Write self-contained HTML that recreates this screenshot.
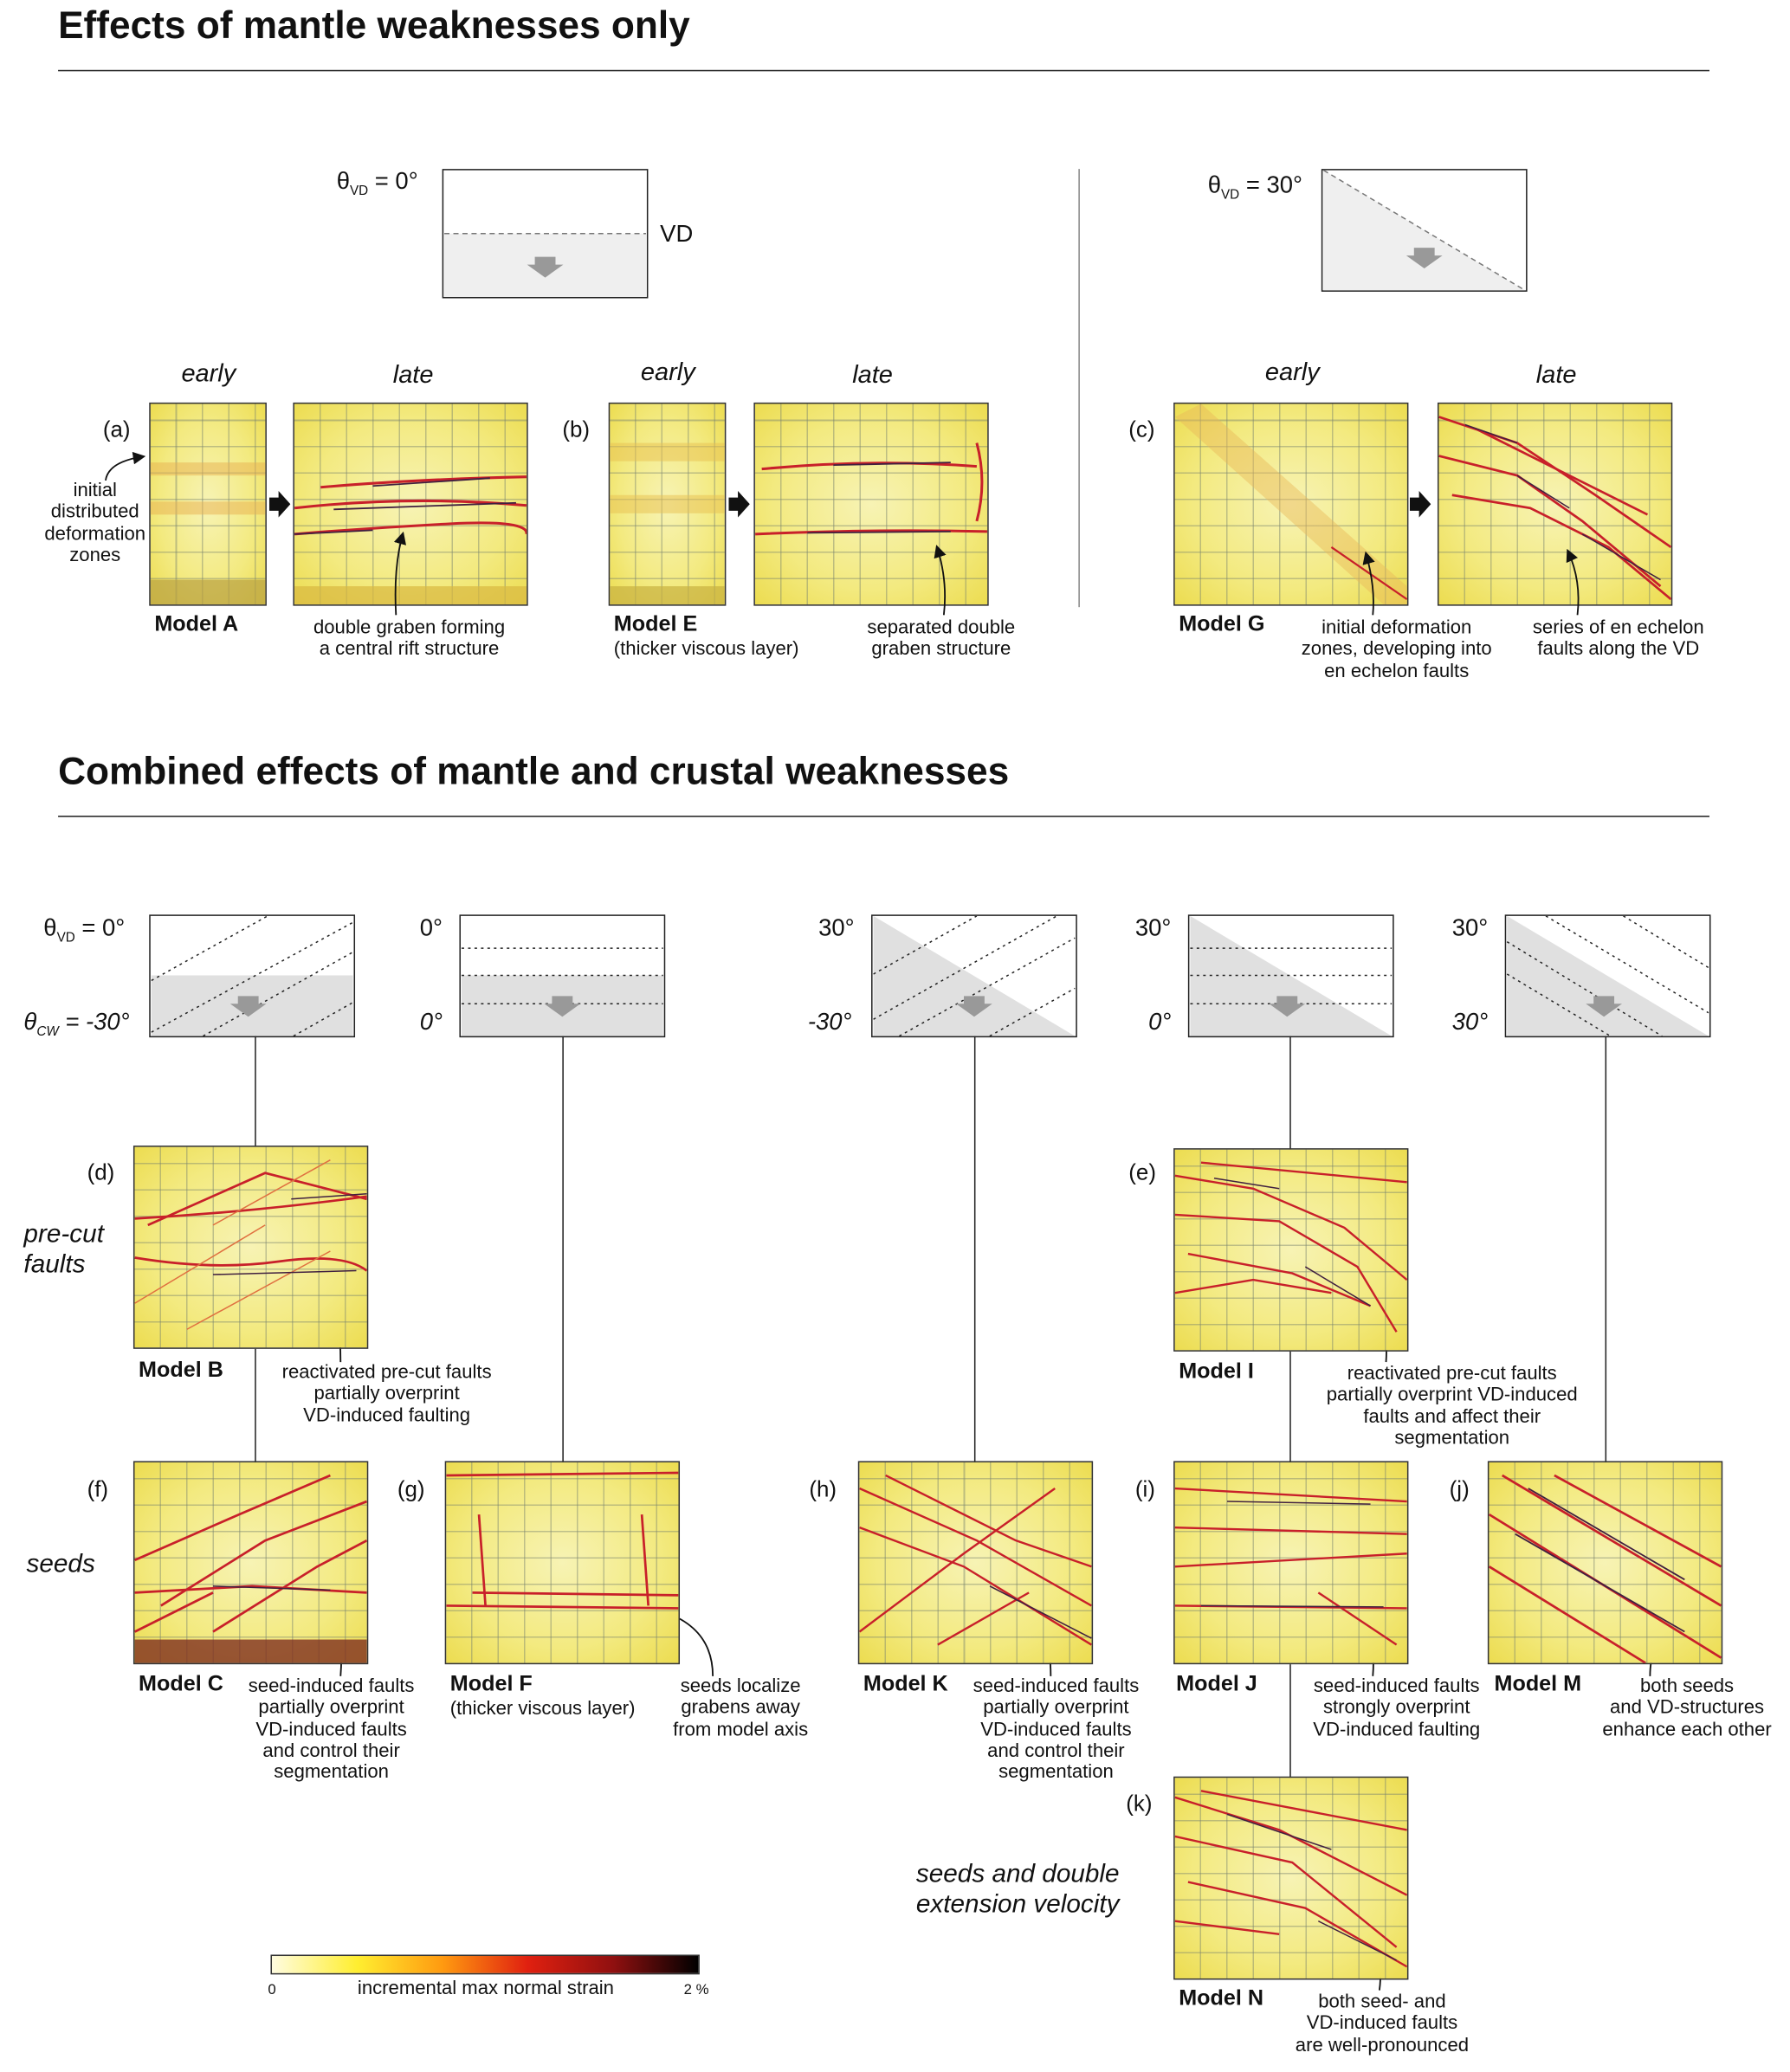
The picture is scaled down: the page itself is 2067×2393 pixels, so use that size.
<!DOCTYPE html>
<html><head><meta charset="utf-8"><style>
html,body{margin:0;padding:0;background:#fff;}
body{width:2067px;height:2393px;overflow:hidden;position:relative;}
#w{position:absolute;left:0;top:0;width:1356px;height:1570px;transform:scale(1.5243);transform-origin:0 0;font-family:"Liberation Sans",Arial,sans-serif;color:#111;}
.t{position:absolute;white-space:nowrap;font-size:14.5px;line-height:16.3px;}
.c{text-align:center;transform:translateX(-50%);}
.b{font-weight:bold;font-size:16.5px;}
.i{font-style:italic;}
.h{position:absolute;font-weight:bold;font-size:29px;left:44px;}
.hr{position:absolute;left:44px;width:1251px;height:1px;background:#222;}
.p{position:absolute;width:178px;height:154px;border:1px solid #333;box-sizing:border-box;
background:
repeating-linear-gradient(90deg,transparent 0 19px,rgba(120,130,110,.45) 19px 20px),
repeating-linear-gradient(0deg,transparent 0 19px,rgba(120,130,110,.45) 19px 20px),
radial-gradient(ellipse at 50% 50%,#f7f3b4 0%,#f3ea80 60%,#ecdc50 100%);}
.p.n{width:89px;}
.p svg{position:absolute;left:0;top:0;width:100%;height:100%;}
.vl{position:absolute;width:1px;background:#222;}
.bx{position:absolute;border:1px solid #222;box-sizing:border-box;background:#fff;overflow:hidden;}
.bx svg{position:absolute;left:0;top:0;width:100%;height:100%;}
</style></head><body><div id="w">

<div class="h" style="top:4px">Effects of mantle weaknesses only</div>
<div class="hr" style="top:53px"></div>
<div class="h" style="top:569px">Combined effects of mantle and crustal weaknesses</div>
<div class="hr" style="top:618px"></div>

<!-- top boxes -->
<div class="t" style="left:255px;top:127px;font-size:18px;line-height:20px">θ<sub style="font-size:10px">VD</sub> = 0°</div>
<div class="bx" style="left:335px;top:128px;width:156px;height:98px"><svg viewBox="0 0 156 98"><rect x="0" y="49" width="156" height="49" fill="#efefef"/><line x1="0" y1="49" x2="156" y2="49" stroke="#777" stroke-dasharray="4,3"/><path d="M70 67h16v6h6l-14 10-14-10h6z" fill="#999"/></svg></div>
<div class="t" style="left:500px;top:167px;font-size:18px;line-height:20px">VD</div>
<div class="vl" style="left:817px;top:128px;height:332px;background:#888"></div>
<div class="t" style="left:915px;top:130px;font-size:18px;line-height:20px">θ<sub style="font-size:10px">VD</sub> = 30°</div>
<div class="bx" style="left:1001px;top:128px;width:156px;height:93px"><svg viewBox="0 0 156 93"><polygon points="0,0 156,93 0,93" fill="#efefef"/><line x1="0" y1="0" x2="156" y2="93" stroke="#777" stroke-dasharray="4,3"/><path d="M70 60h16v6h6l-14 10-14-10h6z" fill="#999"/></svg></div>

<div class="t i c" style="left:158px;top:274px;font-size:19px;line-height:20px">early</div>
<div class="t i c" style="left:313px;top:275px;font-size:19px;line-height:20px">late</div>
<div class="t i c" style="left:506px;top:273px;font-size:19px;line-height:20px">early</div>
<div class="t i c" style="left:661px;top:275px;font-size:19px;line-height:20px">late</div>
<div class="t i c" style="left:979px;top:273px;font-size:19px;line-height:20px">early</div>
<div class="t i c" style="left:1179px;top:275px;font-size:19px;line-height:20px">late</div>

<!-- top panels -->
<div class="t" style="left:78px;top:317px;font-size:17px;line-height:18px">(a)</div>
<div class="p n" style="left:113px;top:305px"><svg viewBox="0 0 89 154" preserveAspectRatio="none"><rect y="45" width="89" height="10" fill="#e8b050" opacity=".5"/><rect y="75" width="89" height="10" fill="#e8b050" opacity=".5"/><rect y="135" width="89" height="19" fill="#b8a040" opacity=".7"/></svg></div>
<svg style="position:absolute;left:204px;top:372px" width="16" height="20"><path d="M0 5h7v-5l9 10-9 10v-5h-7z" fill="#111"/></svg>
<div class="p" style="left:222px;top:305px"><svg viewBox="0 0 178 154"><g fill="none" stroke="#c8202a" stroke-width="2"><path d="M20 64 Q90 58 178 56"/><path d="M0 80 Q90 70 178 78"/><path d="M0 100 Q60 95 120 92 T178 100"/></g><g fill="none" stroke="#402040" stroke-width="1.2"><path d="M60 63 L150 57"/><path d="M30 81 L170 76"/><path d="M0 100 L60 97"/></g><rect y="140" width="178" height="14" fill="#d8b840" opacity=".7"/></svg></div>
<div class="t" style="left:426px;top:317px;font-size:17px;line-height:18px">(b)</div>
<div class="p n" style="left:461px;top:305px"><svg viewBox="0 0 89 154" preserveAspectRatio="none"><rect y="30" width="89" height="14" fill="#e8c050" opacity=".5"/><rect y="70" width="89" height="14" fill="#e8c050" opacity=".5"/><rect y="140" width="89" height="14" fill="#c8b040" opacity=".7"/></svg></div>
<svg style="position:absolute;left:552px;top:372px" width="16" height="20"><path d="M0 5h7v-5l9 10-9 10v-5h-7z" fill="#111"/></svg>
<div class="p" style="left:571px;top:305px"><svg viewBox="0 0 178 154"><g fill="none" stroke="#c8202a" stroke-width="2"><path d="M5 50 Q90 42 170 48"/><path d="M0 100 Q90 96 178 98"/><path d="M170 30 Q178 60 170 90"/></g><g fill="none" stroke="#402040" stroke-width="1.2"><path d="M60 47 L150 45"/><path d="M40 99 L150 98"/></g></svg></div>
<div class="t" style="left:855px;top:317px;font-size:17px;line-height:18px">(c)</div>
<div class="p" style="left:889px;top:305px"><svg viewBox="0 0 178 154"><path d="M0 10 L160 154 L178 154 L178 140 L20 0 Z" fill="#e8b858" opacity=".45"/><g fill="none" stroke="#c8202a" stroke-width="1.5"><path d="M120 110 L178 150"/></g></svg></div>
<svg style="position:absolute;left:1068px;top:372px" width="16" height="20"><path d="M0 5h7v-5l9 10-9 10v-5h-7z" fill="#111"/></svg>
<div class="p" style="left:1089px;top:305px"><svg viewBox="0 0 178 154"><g fill="none" stroke="#c8202a" stroke-width="1.8"><path d="M0 10 L60 30 L120 70 L178 110"/><path d="M0 40 L60 55 L110 90 L170 140"/><path d="M10 70 L70 80 L130 110 L178 150"/><path d="M30 20 L90 50 L160 85"/></g><g fill="none" stroke="#402040" stroke-width="1"><path d="M20 16 L60 30"/><path d="M60 55 L100 80"/><path d="M110 100 L170 135"/></g></svg></div>

<div class="t b" style="left:117px;top:465px">Model A</div>
<div class="t c" style="left:72px;top:364px">initial<br>distributed<br>deformation<br>zones</div>
<div class="t c" style="left:310px;top:468px">double graben forming<br>a central rift structure</div>
<div class="t b" style="left:465px;top:465px">Model E</div>
<div class="t" style="left:465px;top:484px">(thicker viscous layer)</div>
<div class="t c" style="left:713px;top:468px">separated double<br>graben structure</div>
<div class="t b" style="left:893px;top:465px">Model G</div>
<div class="t c" style="left:1058px;top:468px">initial deformation<br>zones, developing into<br>en echelon faults</div>
<div class="t c" style="left:1226px;top:468px">series of en echelon<br>faults along the VD</div>

<!-- annotation arrows -->
<svg style="position:absolute;left:0;top:0" width="1356" height="1570"><defs><marker id="a" markerWidth="8" markerHeight="8" refX="6" refY="4" orient="auto"><path d="M0 0L8 4L0 8z" fill="#111"/></marker></defs>
<g fill="none" stroke="#111" stroke-width="1.2" marker-end="url(#a)">
<path d="M80 364 Q82 350 108 346"/>
<path d="M300 466 Q298 430 305 405"/>
<path d="M715 466 Q718 440 710 415"/>
<path d="M1040 466 Q1042 445 1035 420"/>
<path d="M1195 466 Q1198 440 1188 418"/>
<path d="M258 1032 Q258 1005 253 980"/>
<path d="M1050 1032 Q1052 1005 1040 980"/>
<path d="M258 1270 Q260 1245 255 1222"/>
<path d="M540 1270 Q540 1235 505 1222"/>
<path d="M796 1270 Q796 1245 788 1222"/>
<path d="M1040 1270 Q1042 1245 1035 1220"/>
<path d="M1250 1270 Q1250 1248 1262 1238"/>
<path d="M1045 1508 Q1048 1485 1040 1460"/>
</g></svg>

<!-- lower boxes -->
<div class="t" style="left:33px;top:693px;font-size:18px;line-height:20px">θ<sub style="font-size:10px">VD</sub> = 0°</div>
<div class="t i" style="left:18px;top:764px;font-size:18px;line-height:20px">θ<sub style="font-size:10px">CW</sub> = -30°</div>
<div class="bx" style="left:113px;top:693px;width:156px;height:93px"><svg viewBox="0 0 156 93"><rect y="46" width="156" height="47" fill="#e0e0e0"/><g stroke="#222" stroke-dasharray="2,3"><line x1="0" y1="50" x2="90" y2="0"/><line x1="0" y1="90" x2="156" y2="5"/><line x1="40" y1="93" x2="156" y2="28"/><line x1="110" y1="93" x2="156" y2="67"/></g><path d="M67 62h16v6h6l-14 10-14-10h6z" fill="#999"/></svg></div>
<div class="t" style="left:318px;top:693px;font-size:18px;line-height:20px">0°</div>
<div class="t i" style="left:318px;top:764px;font-size:18px;line-height:20px">0°</div>
<div class="bx" style="left:348px;top:693px;width:156px;height:93px"><svg viewBox="0 0 156 93"><rect y="46" width="156" height="47" fill="#e0e0e0"/><g stroke="#222" stroke-dasharray="2,3"><line x1="0" y1="25" x2="156" y2="25"/><line x1="0" y1="46" x2="156" y2="46"/><line x1="0" y1="68" x2="156" y2="68"/></g><path d="M70 62h16v6h6l-14 10-14-10h6z" fill="#999"/></svg></div>
<div class="t" style="left:620px;top:693px;font-size:18px;line-height:20px">30°</div>
<div class="t i" style="left:612px;top:764px;font-size:18px;line-height:20px">-30°</div>
<div class="bx" style="left:660px;top:693px;width:156px;height:93px"><svg viewBox="0 0 156 93"><polygon points="0,0 156,93 0,93" fill="#e0e0e0"/><g stroke="#222" stroke-dasharray="2,3"><line x1="0" y1="45" x2="80" y2="0"/><line x1="0" y1="80" x2="142" y2="0"/><line x1="20" y1="93" x2="156" y2="17"/><line x1="90" y1="93" x2="156" y2="56"/></g><path d="M70 62h16v6h6l-14 10-14-10h6z" fill="#999"/></svg></div>
<div class="t" style="left:860px;top:693px;font-size:18px;line-height:20px">30°</div>
<div class="t i" style="left:870px;top:764px;font-size:18px;line-height:20px">0°</div>
<div class="bx" style="left:900px;top:693px;width:156px;height:93px"><svg viewBox="0 0 156 93"><polygon points="0,0 156,93 0,93" fill="#e0e0e0"/><g stroke="#222" stroke-dasharray="2,3"><line x1="0" y1="25" x2="156" y2="25"/><line x1="0" y1="46" x2="156" y2="46"/><line x1="0" y1="68" x2="156" y2="68"/></g><path d="M67 62h16v6h6l-14 10-14-10h6z" fill="#999"/></svg></div>
<div class="t" style="left:1100px;top:693px;font-size:18px;line-height:20px">30°</div>
<div class="t i" style="left:1100px;top:764px;font-size:18px;line-height:20px">30°</div>
<div class="bx" style="left:1140px;top:693px;width:156px;height:93px"><svg viewBox="0 0 156 93"><polygon points="0,0 156,93 0,93" fill="#e0e0e0"/><g stroke="#222" stroke-dasharray="2,3"><line x1="0" y1="20" x2="120" y2="93"/><line x1="0" y1="45" x2="80" y2="93"/><line x1="30" y1="0" x2="156" y2="75"/><line x1="90" y1="0" x2="156" y2="40"/></g><path d="M67 62h16v6h6l-14 10-14-10h6z" fill="#999"/></svg></div>

<!-- connectors -->
<div class="vl" style="left:193px;top:785px;height:84px"></div>
<div class="vl" style="left:193px;top:1022px;height:86px"></div>
<div class="vl" style="left:426px;top:785px;height:323px"></div>
<div class="vl" style="left:738px;top:785px;height:323px"></div>
<div class="vl" style="left:977px;top:785px;height:86px"></div>
<div class="vl" style="left:977px;top:1024px;height:84px"></div>
<div class="vl" style="left:977px;top:1261px;height:86px"></div>
<div class="vl" style="left:1216px;top:785px;height:323px"></div>

<!-- lower panels -->
<div class="t" style="left:66px;top:880px;font-size:17px;line-height:18px">(d)</div>
<div class="p" style="left:101px;top:868px"><svg viewBox="0 0 178 154"><g fill="none" stroke="#c8202a" stroke-width="1.8"><path d="M0 55 Q90 50 178 38"/><path d="M0 85 Q60 95 110 88 T178 95"/><path d="M10 60 L100 20 L178 40"/></g><g fill="none" stroke="#e07040" stroke-width="1"><path d="M0 120 L100 60"/><path d="M40 140 L150 80"/><path d="M60 60 L150 10"/></g><g fill="none" stroke="#402040" stroke-width="1"><path d="M120 40 L178 36"/><path d="M60 98 L170 95"/></g></svg></div>
<div class="t" style="left:855px;top:880px;font-size:17px;line-height:18px">(e)</div>
<div class="p" style="left:889px;top:870px"><svg viewBox="0 0 178 154"><g fill="none" stroke="#c8202a" stroke-width="1.6"><path d="M0 20 L60 30 L130 60 L178 100"/><path d="M0 50 L80 55 L140 90 L170 140"/><path d="M10 80 L90 95 L150 120"/><path d="M20 10 L178 25"/><path d="M0 110 L60 100 L120 110"/></g><g fill="none" stroke="#402040" stroke-width="1"><path d="M30 22 L80 30"/><path d="M100 90 L150 120"/></g></svg></div>
<div class="t" style="left:66px;top:1120px;font-size:17px;line-height:18px">(f)</div>
<div class="p" style="left:101px;top:1107px"><svg viewBox="0 0 178 154"><g fill="none" stroke="#c8202a" stroke-width="1.8"><path d="M0 75 L80 40 L150 10"/><path d="M20 110 L100 60 L178 30"/><path d="M60 130 L140 80 L178 60"/><path d="M0 100 L90 95 L178 100"/><path d="M0 130 L60 100"/></g><g fill="none" stroke="#402040" stroke-width="1"><path d="M60 95 L150 98"/></g><rect y="136" width="178" height="18" fill="#803020" opacity=".8"/></svg></div>
<div class="t" style="left:301px;top:1120px;font-size:17px;line-height:18px">(g)</div>
<div class="p" style="left:337px;top:1107px"><svg viewBox="0 0 178 154"><g fill="none" stroke="#c8202a" stroke-width="1.8"><path d="M0 10 L178 8"/><path d="M0 110 L178 112"/><path d="M20 100 L178 102"/><path d="M25 40 L30 110"/><path d="M150 40 L155 110"/></g></svg></div>
<div class="t" style="left:613px;top:1120px;font-size:17px;line-height:18px">(h)</div>
<div class="p" style="left:650px;top:1107px"><svg viewBox="0 0 178 154"><g fill="none" stroke="#c8202a" stroke-width="1.6"><path d="M0 20 L90 60 L178 110"/><path d="M0 50 L80 80 L178 140"/><path d="M20 10 L120 60 L178 80"/><path d="M0 130 L80 70 L150 20"/><path d="M60 140 L130 100"/></g><g fill="none" stroke="#402040" stroke-width="1"><path d="M100 95 L178 135"/></g></svg></div>
<div class="t" style="left:860px;top:1120px;font-size:17px;line-height:18px">(i)</div>
<div class="p" style="left:889px;top:1107px"><svg viewBox="0 0 178 154"><g fill="none" stroke="#c8202a" stroke-width="1.6"><path d="M0 20 L178 30"/><path d="M0 50 L178 55"/><path d="M0 80 L178 70"/><path d="M0 110 L178 112"/><path d="M110 100 L170 140"/></g><g fill="none" stroke="#402040" stroke-width="1"><path d="M40 30 L150 32"/><path d="M20 110 L160 111"/></g></svg></div>
<div class="t" style="left:1098px;top:1120px;font-size:17px;line-height:18px">(j)</div>
<div class="p" style="left:1127px;top:1107px"><svg viewBox="0 0 178 154"><g fill="none" stroke="#c8202a" stroke-width="1.8"><path d="M10 10 L178 110"/><path d="M0 40 L178 150"/><path d="M50 10 L178 80"/><path d="M0 80 L120 154"/></g><g fill="none" stroke="#402040" stroke-width="1.2"><path d="M30 20 L150 90"/><path d="M20 55 L150 130"/></g></svg></div>
<div class="t" style="left:853px;top:1358px;font-size:17px;line-height:18px">(k)</div>
<div class="p" style="left:889px;top:1346px"><svg viewBox="0 0 178 154"><g fill="none" stroke="#c8202a" stroke-width="1.6"><path d="M0 15 L80 40 L178 90"/><path d="M0 45 L90 65 L170 130"/><path d="M10 80 L100 100 L178 145"/><path d="M20 10 L178 40"/><path d="M0 110 L80 120"/></g><g fill="none" stroke="#402040" stroke-width="1"><path d="M40 28 L120 55"/><path d="M110 110 L170 140"/></g></svg></div>

<div class="t i" style="left:18px;top:924px;font-size:19.5px;line-height:23px">pre-cut<br>faults</div>
<div class="t i" style="left:20px;top:1174px;font-size:19.5px;line-height:23px">seeds</div>
<div class="t i" style="left:694px;top:1409px;font-size:19.5px;line-height:23px">seeds and double<br>extension velocity</div>

<div class="t b" style="left:105px;top:1030px">Model B</div>
<div class="t c" style="left:293px;top:1032px">reactivated pre-cut faults<br>partially overprint<br>VD-induced faulting</div>
<div class="t b" style="left:893px;top:1031px">Model I</div>
<div class="t c" style="left:1100px;top:1033px">reactivated pre-cut faults<br>partially overprint VD-induced<br>faults and affect their<br>segmentation</div>
<div class="t b" style="left:105px;top:1268px">Model C</div>
<div class="t c" style="left:251px;top:1270px">seed-induced faults<br>partially overprint<br>VD-induced faults<br>and control their<br>segmentation</div>
<div class="t b" style="left:341px;top:1268px">Model F</div>
<div class="t" style="left:341px;top:1287px">(thicker viscous layer)</div>
<div class="t c" style="left:561px;top:1270px">seeds localize<br>grabens away<br>from model axis</div>
<div class="t b" style="left:654px;top:1268px">Model K</div>
<div class="t c" style="left:800px;top:1270px">seed-induced faults<br>partially overprint<br>VD-induced faults<br>and control their<br>segmentation</div>
<div class="t b" style="left:891px;top:1268px">Model J</div>
<div class="t c" style="left:1058px;top:1270px">seed-induced faults<br>strongly overprint<br>VD-induced faulting</div>
<div class="t b" style="left:1132px;top:1268px">Model M</div>
<div class="t c" style="left:1278px;top:1270px">both seeds<br>and VD-structures<br>enhance each other</div>
<div class="t b" style="left:893px;top:1506px">Model N</div>
<div class="t c" style="left:1047px;top:1509px">both seed- and<br>VD-induced faults<br>are well-pronounced</div>

<!-- colorbar -->
<div style="position:absolute;left:205px;top:1481px;width:325px;height:15px;border:1px solid #333;box-sizing:border-box;background:linear-gradient(90deg,#fffce0 0%,#ffee30 20%,#ff9a10 40%,#e02010 60%,#901010 80%,#000 100%)"></div>
<div class="t" style="left:203px;top:1500px;font-size:11px">0</div>
<div class="t c" style="left:368px;top:1499px">incremental max normal strain</div>
<div class="t" style="left:518px;top:1500px;font-size:11px">2 %</div>

</div></body></html>
